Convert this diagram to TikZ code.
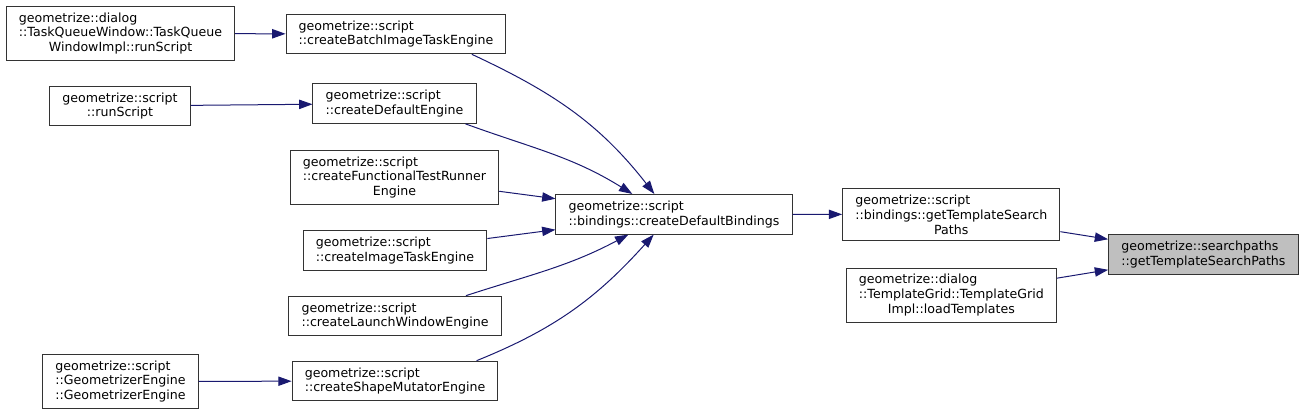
\documentclass[tikz,border=0pt]{standalone}
\usepackage{fontspec}
\setmainfont{DejaVu Sans}
\usetikzlibrary{arrows.meta}
\definecolor{edgeblue}{HTML}{191970}
\definecolor{nodegray}{HTML}{BFBFBF}
\newcommand{\ctr}[1]{\hspace*{\fill}#1\hspace*{\fill}}
\begin{document}
\begin{tikzpicture}[
    x=0.75pt, y=0.75pt,
    >={Triangle[length=10pt,width=7pt]},
    box/.style={
        draw=black!80,
        line width=0.75pt,
        fill=white,
        align=left,
        inner xsep=9.5pt,
        inner ysep=4.7pt,
        font=\fontsize{9.45}{11.2}\selectfont
    },
    arr/.style={->, line width=0.75pt, draw=edgeblue}
]
    \useasboundingbox (0,0) rectangle (1304,-415);

    \node[box] (tqw) at (120.5,-33.5)
        {geometrize::dialog\\::TaskQueueWindow::TaskQueue\\\ctr{WindowImpl::runScript}};

    \node[box] (batch) at (396,-34)
        {geometrize::script\\::createBatchImageTaskEngine};

    \node[box] (runscr) at (120,-106)
        {\ctr{geometrize::script}\\\ctr{::runScript}};

    \node[box] (defeng) at (394.5,-103.5)
        {geometrize::script\\::createDefaultEngine};

    \node[box] (functest) at (394.5,-177.5)
        {geometrize::script\\::createFunctionalTestRunner\\\ctr{Engine}};

    \node[box] (imgtask) at (395,-250.5)
        {geometrize::script\\::createImageTaskEngine};

    \node[box] (launch) at (395,-316)
        {geometrize::script\\::createLaunchWindowEngine};

    \node[box] (shape) at (395,-381)
        {geometrize::script\\::createShapeMutatorEngine};

    \node[box] (geomeng) at (120.5,-381.5)
        {geometrize::script\\::GeometrizerEngine\\::GeometrizerEngine};

    \node[box] (bind) at (674,-214.3)
        {geometrize::script\\::bindings::createDefaultBindings};

    \node[box] (tplpaths) at (951.3,-214.4)
        {geometrize::script\\::bindings::getTemplateSearch\\\ctr{Paths}};

    \node[box] (loadtpl) at (951.4,-295.4)
        {geometrize::dialog\\::TemplateGrid::TemplateGrid\\\ctr{Impl::loadTemplates}};

    \node[box, fill=nodegray] (search) at (1203.4,-254.3)
        {geometrize::searchpaths\\::getTemplateSearchPaths};

    \draw[arr] (tqw) -- (batch);
    \draw[arr] (runscr) -- (defeng);
    \draw[arr] (geomeng) -- (shape);
    \draw[arr] (batch.-15) to[out=-25, in=128] (bind.134);
    \draw[arr] (defeng.-16) to[out=-20, in=148] (bind.154);
    \draw[arr] (functest) -- (bind);
    \draw[arr] (imgtask) -- (bind);
    \draw[arr] (launch.16) to[out=18, in=-152] (bind.-156);
    \draw[arr] (shape.14) to[out=22, in=-132] (bind.-135);
    \draw[arr] (bind) -- (tplpaths);
    \draw[arr] (tplpaths) -- (search);
    \draw[arr] (loadtpl) -- (search);
\end{tikzpicture}
\end{document}
